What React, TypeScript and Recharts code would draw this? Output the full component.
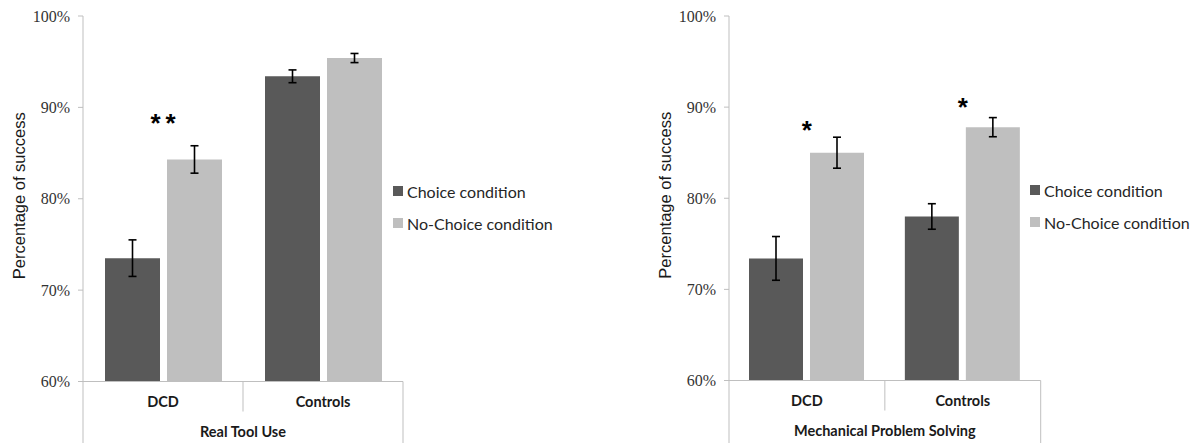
import React from 'react';
import { ComposedChart, Bar, XAxis, YAxis, ErrorBar, Scatter, Legend } from 'recharts';

// ---------- data ----------
const categories = ['DCD', 'Controls'];
const yTicks = [60, 70, 80, 90, 100];
const seriesNames = ['Choice condition', 'No-Choice condition'];
const yAxisTitle = 'Percentage of success';

const toolTitle = 'Real Tool Use';
const toolChoice = [73.5, 93.4];
const toolChoiceErr = [2.0, 0.7];
const toolNoChoice = [84.3, 95.4];
const toolNoChoiceErr = [1.5, 0.5];
const toolSig = ['**', ''];
const toolSigLevel = [88.9, null];

const mechTitle = 'Mechanical Problem Solving';
const mechChoice = [73.4, 78.0];
const mechChoiceErr = [2.4, 1.4];
const mechNoChoice = [85.0, 87.8];
const mechNoChoiceErr = [1.7, 1.05];
const mechSig = ['*', '*'];
const mechSigLevel = [88.1, 90.7];

// ---------- styles ----------
const DARK = '#595959';
const LIGHT = '#BFBFBF';
const AXIS = '#BFBFBF';

const buildRows = (choice: number[], choiceErr: number[], noChoice: number[], noChoiceErr: number[], sig: string[], sigLevel: (number | null)[]) =>
  categories.map((c, i) => ({
    cat: c,
    choice: choice[i],
    choiceErr: choiceErr[i],
    noChoice: noChoice[i],
    noChoiceErr: noChoiceErr[i],
    sig: sig[i],
    sigLevel: sigLevel[i],
  }));

const CategoryTick = (props: any) => {
  const { x, y, payload, index, band, depth } = props;
  const last = index === categories.length - 1;
  return (
    <g>
      <text x={x} y={y + 25} textAnchor="middle" fontFamily="Lato" fontWeight={700} fontSize={14.5} fill="#1a1a1a">
        {payload.value}
      </text>
      {index === 0 && <line x1={x - band / 2} x2={x - band / 2} y1={y} y2={y + depth} stroke={AXIS} strokeWidth={1} />}
      <line x1={x + band / 2} x2={x + band / 2} y1={y} y2={last ? y + depth : y + 30} stroke={AXIS} strokeWidth={1} />
    </g>
  );
};

const YTitle = (props: any) => {
  const vb = props.viewBox;
  const cx = vb.x + 11;
  const cy = vb.y + vb.height / 2 - 3;
  return (
    <text x={cx} y={cy} transform={`rotate(-90 ${cx} ${cy})`} textAnchor="middle" dominantBaseline="central" fontFamily="Liberation Sans" fontSize={16.5} fill="#1a1a1a">
      {yAxisTitle}
    </text>
  );
};

const makeXTitle = (title: string) => (props: any) => {
  const vb = props.viewBox;
  return (
    <text x={vb.x + vb.width / 2} y={vb.y + 55} textAnchor="middle" fontFamily="Lato" fontWeight={700} fontSize={14.5} fill="#1a1a1a">
      {title}
    </text>
  );
};

const LegendBox = (props: any) => {
  const items = (props.payload || []).filter((p: any) => seriesNames.includes(p.value));
  return (
    <div style={{ fontFamily: 'Lato', fontSize: 16, color: '#262626' }}>
      {items.map((it: any) => (
        <div key={it.value} style={{ display: 'flex', alignItems: 'center', height: 32, whiteSpace: 'nowrap' }}>
          <span style={{ display: 'inline-block', width: 10, height: 10, background: it.color, marginRight: 4 }} />
          <span>{it.value}</span>
        </div>
      ))}
    </div>
  );
};

const StarShape = (props: any) => {
  const { cx, cy, payload } = props;
  if (!payload || !payload.sig) return <g />;
  const n = payload.sig.length;
  return (
    <text x={cx + (n > 1 ? 2.5 : 0)} y={cy + 15} textAnchor="middle" fontFamily="Liberation Sans" fontWeight={700} fontSize={26} letterSpacing={n > 1 ? 5 : 0} fill="#000">
      {payload.sig}
    </text>
  );
};

type PanelProps = {
  left: number;
  width: number;
  marginRight: number;
  xAxisHeight: number;
  barSize: number;
  title: string;
  rows: any[];
  legendLeft: number;
  legendTop: number;
};

const MARGIN_LEFT = 8;
const YAXIS_W = 75;
const HEIGHT = 443;
const TOP = 16;

const Panel = ({ left, width, marginRight, xAxisHeight, barSize, title, rows, legendLeft, legendTop }: PanelProps) => {
  const plotW = width - MARGIN_LEFT - YAXIS_W - marginRight;
  const band = plotW / categories.length;
  return (
    <div style={{ position: 'absolute', left, top: 0 }}>
      <ComposedChart
        width={width}
        height={HEIGHT}
        data={rows}
        margin={{ top: TOP, right: marginRight, bottom: 0, left: MARGIN_LEFT }}
        barSize={barSize}
        barGap={7}
      >
        <XAxis
          dataKey="cat"
          height={xAxisHeight}
          axisLine={{ stroke: AXIS }}
          tickLine={false}
          tickSize={0}
          tickMargin={0}
          interval={0}
          tick={(p: any) => <CategoryTick {...p} band={band} depth={xAxisHeight} />}
          label={makeXTitle(title)}
        />
        <YAxis
          width={YAXIS_W}
          domain={[60, 100]}
          ticks={yTicks}
          allowDataOverflow
          axisLine={{ stroke: AXIS }}
          tickLine={{ stroke: AXIS }}
          tickSize={5}
          tickMargin={8}
          tickFormatter={(v: number) => `${v}%`}
          tick={{ fontFamily: 'Liberation Serif', fontSize: 16, fill: '#333' }}
          label={<YTitle />}
        />
        <Legend
          layout="horizontal"
          verticalAlign="middle"
          align="center"
          content={<LegendBox />}
          wrapperStyle={{ left: legendLeft, top: legendTop, width: 'auto', height: 'auto' }}
        />
        <Bar dataKey="choice" name={seriesNames[0]} fill={DARK} isAnimationActive={false}>
          <ErrorBar dataKey="choiceErr" width={4} stroke="#000" strokeWidth={1.6} isAnimationActive={false} />
        </Bar>
        <Bar dataKey="noChoice" name={seriesNames[1]} fill={LIGHT} isAnimationActive={false}>
          <ErrorBar dataKey="noChoiceErr" width={4} stroke="#000" strokeWidth={1.6} isAnimationActive={false} />
        </Bar>
        <Scatter dataKey="sigLevel" legendType="none" shape={<StarShape />} isAnimationActive={false} />
      </ComposedChart>
    </div>
  );
};

const toolRows = buildRows(toolChoice, toolChoiceErr, toolNoChoice, toolNoChoiceErr, toolSig, toolSigLevel);
const mechRows = buildRows(mechChoice, mechChoiceErr, mechNoChoice, mechNoChoiceErr, mechSig, mechSigLevel);

export default function App() {
  return (
    <div style={{ position: 'absolute', left: 0, top: 0, width: 1195, height: 443, background: '#fff', overflow: 'hidden' }}>
      <Panel left={0} width={600} marginRight={197} xAxisHeight={61.5} barSize={55} title={toolTitle} rows={toolRows} legendLeft={393} legendTop={175} />
      <Panel left={646} width={549} marginRight={154.3} xAxisHeight={62.5} barSize={54} title={mechTitle} rows={mechRows} legendLeft={384} legendTop={174} />
    </div>
  );
}
